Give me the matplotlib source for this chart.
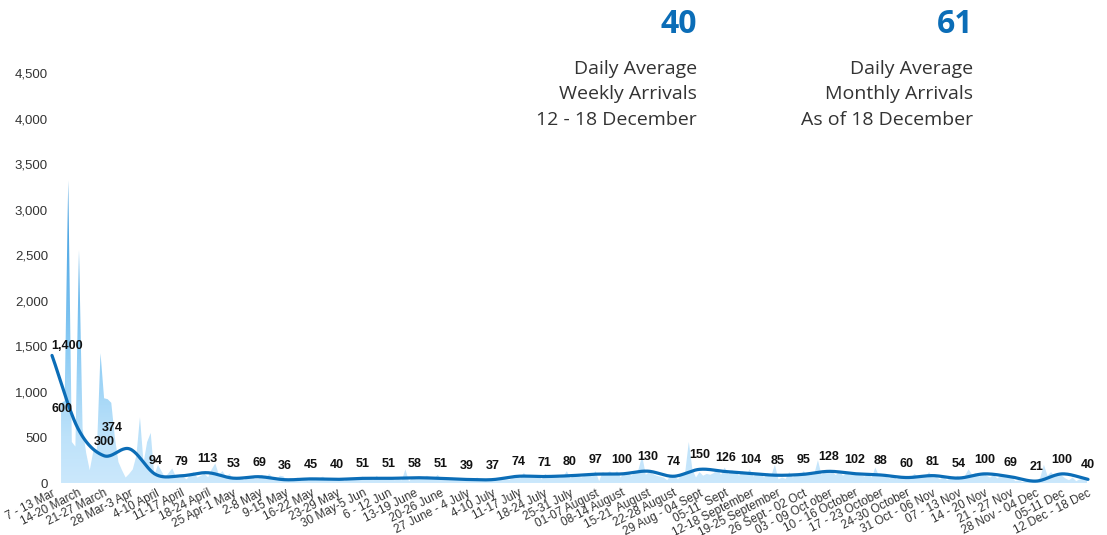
import numpy as np
import matplotlib
matplotlib.use("Agg")
import matplotlib.pyplot as plt
from matplotlib.colors import LinearSegmentedColormap
from matplotlib.patches import PathPatch

# ---------------- data ----------------
weeks = ["7 - 13 Mar", "14-20 March", "21-27 March", "28 Mar-3 Apr", "4-10 April",
         "11-17 April", "18-24 April", "25 Apr-1 May", "2-8 May", "9-15 May",
         "16-22 May", "23-29 May", "30 May-5 Jun", "6 - 12 Jun", "13-19 June",
         "20-26 June", "27 June - 4 July", "4-10 July", "11-17 July", "18-24 July",
         "25-31 July", "01-07 August", "08-14 August", "15-21  August", "22-28 August",
         "29 Aug - 04 Sept", "05-11  Sept", "12-18 September", "19-25 September",
         "26 Sept - 02 Oct", "03 - 09 Oct ober", "10 - 16 October", "17 - 23 October",
         "24-30 October", "31 Oct - 06 Nov", "07 - 13 Nov", "14 - 20 Nov", "21 - 27 Nov",
         "28 Nov - 04 Dec", "05-11 Dec", "12 Dec - 18 Dec"]

weekly_avg = [1400, 600, 300, 374, 94, 79, 113, 53, 69, 36, 45, 40, 51, 51, 58, 51,
              39, 37, 74, 71, 80, 97, 100, 130, 74, 150, 126, 104, 85, 95, 128, 102,
              88, 60, 81, 54, 100, 69, 21, 100, 40]

daily_arrivals = [
    877, 900, 3320, 450, 400, 2555, 600,
    330, 140, 350, 370, 1425, 930, 920,
    880, 500, 230, 140, 60, 100, 150,
    300, 720, 220, 450, 550, 80, 200,
    130, 60, 110, 160, 70, 60, 70,
    40, 90, 120, 60, 80, 100, 63,
    150, 215, 90, 130, 70, 100, 36,
    40, 70, 30, 60, 80, 45, 46,
    90, 50, 100, 60, 30, 80, 73,
    20, 50, 30, 60, 25, 40, 27,
    60, 30, 50, 70, 40, 30, 35,
    30, 55, 20, 50, 45, 40, 40,
    70, 40, 60, 30, 80, 40, 37,
    40, 50, 30, 40, 30, 150, 17,
    60, 40, 70, 50, 80, 60, 46,
    90, 40, 50, 30, 60, 40, 47,
    30, 50, 20, 40, 60, 35, 38,
    40, 20, 50, 30, 45, 40, 34,
    60, 90, 50, 110, 70, 80, 58,
    80, 40, 100, 60, 90, 70, 57,
    70, 130, 50, 90, 80, 60, 80,
    110, 70, 130, 20, 120, 100, 129,
    90, 130, 60, 120, 110, 80, 110,
    150, 300, 90, 120, 100, 80, 70,
    60, 30, 90, 80, 40, 100, 118,
    450, 150, 60, 120, 80, 100, 90,
    110, 150, 90, 170, 100, 140, 122,
    80, 130, 90, 150, 70, 110, 98,
    60, 110, 80, 200, 40, 60, 45,
    120, 60, 100, 80, 130, 90, 85,
    100, 250, 90, 140, 110, 120, 86,
    130, 80, 110, 90, 120, 100, 84,
    70, 100, 60, 170, 80, 70, 66,
    50, 80, 40, 70, 60, 50, 70,
    100, 60, 90, 70, 120, 60, 67,
    40, 70, 30, 60, 50, 80, 48,
    80, 150, 90, 110, 70, 120, 80,
    60, 90, 50, 80, 70, 60, 73,
    20, 30, 10, 25, 15, 30, 17,
    60, 200, 80, 120, 70, 90, 80,
    50, 30, 60, 20, 40, 50, 30,
]

yticks = [0, 500, 1000, 1500, 2000, 2500, 3000, 3500, 4000, 4500]

headline_week = "40"
headline_month = "61"

# label offsets (points) for the crowded first weeks; others use default
label_offsets = {0: (11, 6.5), 1: (-11.5, 13.7), 3: (-12.7, 15)}

# ---------------- styling ----------------
BLUE = "#0b6db7"
TXT = "#333333"
W, H = 1107, 535

fig = plt.figure(figsize=(W / 100, H / 100), dpi=100)
ax = fig.add_axes([49.4 / W, 52 / H, (1090.6 - 49.4) / W, 410 / H])

xw = np.arange(len(weeks))
xd = np.linspace(0.35, 39.96, len(daily_arrivals))

# area with vertical gradient
poly = ax.fill_between(xd, daily_arrivals, 0, facecolor="none", lw=0)
cmap = LinearSegmentedColormap.from_list(
    "g", [(0.0, "#cbe8fc"), (0.15, "#bde2fa"), (0.45, "#88caf4"), (1.0, "#3194db")])
grad = np.linspace(0, 1, 256).reshape(-1, 1)
im = ax.imshow(grad, extent=[xd[0], xd[-1], 0, 3400], origin="lower",
               aspect="auto", cmap=cmap, zorder=1, interpolation="bilinear")
patch = PathPatch(poly.get_paths()[0], transform=ax.transData,
                  facecolor="none", edgecolor="none")
ax.add_patch(patch)
im.set_clip_path(patch)


# smoothed weekly line (Catmull-Rom through weekly points)
def catmull_rom(x, y, n=24):
    P = np.column_stack([x, y]).astype(float)
    P = np.vstack([2 * P[0] - P[1], P, 2 * P[-1] - P[-2]])
    out = []
    t = np.linspace(0, 1, n, endpoint=False)[:, None]
    for i in range(1, len(P) - 2):
        p0, p1, p2, p3 = P[i - 1], P[i], P[i + 1], P[i + 2]
        c = 0.5 * (2 * p1 + (-p0 + p2) * t + (2 * p0 - 5 * p1 + 4 * p2 - p3) * t ** 2
                   + (-p0 + 3 * p1 - 3 * p2 + p3) * t ** 3)
        out.append(c)
    out.append(P[-2][None, :])
    out = np.vstack(out)
    return out[:, 0], out[:, 1]


sx, sy = catmull_rom(xw, weekly_avg)
ax.plot(sx, sy, color=BLUE, lw=2.3, zorder=3, solid_capstyle="round")

for i, v in enumerate(weekly_avg):
    off = label_offsets.get(i, (0, 10))
    ax.annotate(f"{v:,}", (xw[i], v), xytext=off, textcoords="offset points",
                ha="center", va="center", fontsize=9, fontweight="bold",
                family="Liberation Sans", color="#111111", zorder=4)

ax.set_xlim(-0.1, 40.1)
ax.set_ylim(0, 4500)
ax.set_yticks(yticks)
ax.set_yticklabels([f"{t:,}" for t in yticks], fontsize=9.5, color=TXT,
                   family="Liberation Sans")
ax.set_xticks(xw)
ax.set_xticklabels(weeks, rotation=27, ha="right", va="top", rotation_mode="anchor",
                   fontsize=8.5, color=TXT, family="Liberation Sans")
ax.tick_params(axis="y", length=0, pad=1)
ax.tick_params(axis="x", length=0, pad=3)
for s in ax.spines.values():
    s.set_visible(False)


# header blocks
def header(xr, big, lines):
    fig.text(xr / W, 1 - 33.3 / H, big, ha="right", va="baseline", fontsize=23,
             fontweight="bold", color=BLUE, family="Open Sans")
    for k, ln in enumerate(lines):
        fig.text(xr / W, 1 - (74 + 25.3 * k) / H, ln, ha="right", va="baseline",
                 fontsize=14, color=TXT, family="Open Sans")


header(697, headline_week, ["Daily Average", "Weekly Arrivals", "12 - 18 December"])
header(973, headline_month, ["Daily Average", "Monthly Arrivals", "As of 18 December"])

fig.savefig("out.png", dpi=100)
